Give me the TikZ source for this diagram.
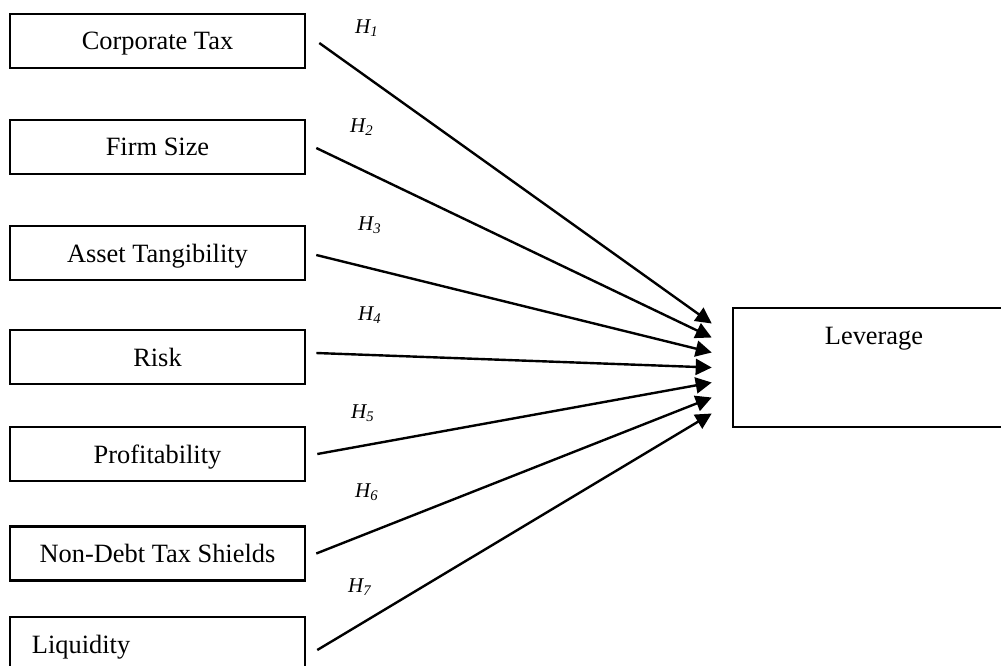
\documentclass[tikz,border=0pt]{standalone}
\usepackage{fontspec}
\setmainfont{Liberation Serif}
\usetikzlibrary{arrows.meta}

\begin{document}
\begin{tikzpicture}[x=0.5pt, y=-0.5pt,
  box/.style = {draw, line width=1.3pt, minimum width=147.5pt, minimum height=27pt, inner sep=0pt, text depth=0pt, font=\fontsize{13.2}{15}\selectfont},
  hyp/.style = {font=\fontsize{10.5}{12}\selectfont\itshape, inner sep=0pt},
  link/.style = {line width=1.2pt, -{Triangle[length=8pt,width=8pt]}}]

% Frame
\clip (0,0) rectangle (1001,665);

% Determinants
\node[box] (tax) at (157.5,41) {Corporate Tax};
\node[box] (size) at (157.5,147) {Firm Size};
\node[box] (tang) at (157.5,253) {Asset Tangibility};
\node[box] (risk) at (157.5,357) {Risk};
\node[box] (prof) at (157.5,454) {Profitability};
\node[box] (ndts) at (157.5,553.5) {Non-Debt Tax Shields};
\node[box, inner xsep=11pt, text width=125.5pt, align=left] (liq) at (157.5,644) {Liquidity};

% Dependent variable
\node[draw, line width=1.3pt, minimum width=138.5pt, minimum height=59.5pt, inner sep=0pt] (lev) at (871.5,367.5) {};
\node[font=\fontsize{13.2}{15}\selectfont, anchor=base] (levtext) at (874,344) {Leverage};

% Hypotheses
\node[hyp] (h1) at (367,28) {H\textsubscript{1}};
\node[hyp] (h2) at (362,127) {H\textsubscript{2}};
\node[hyp] (h3) at (370,225) {H\textsubscript{3}};
\node[hyp] (h4) at (370,315) {H\textsubscript{4}};
\node[hyp] (h5) at (363,413) {H\textsubscript{5}};
\node[hyp] (h6) at (367,492) {H\textsubscript{6}};
\node[hyp] (h7) at (360,587) {H\textsubscript{7}};

% Arrows
\draw[link] ([xshift=6.5pt,yshift=-1pt]tax.east) -- ([xshift=-10pt,yshift=22pt]lev.west);
\draw[link] ([xshift=5pt,yshift=-0.5pt]size.east) -- ([xshift=-10pt,yshift=15pt]lev.west);
\draw[link] ([xshift=5pt,yshift=-1pt]tang.east) -- ([xshift=-10pt,yshift=7.5pt]lev.west);
\draw[link] ([xshift=5pt,yshift=2pt]risk.east) -- ([xshift=-10pt]lev.west);
\draw[link] ([xshift=5.5pt]prof.east) -- ([xshift=-10pt,yshift=-7.5pt]lev.west);
\draw[link] ([xshift=5pt]ndts.east) -- ([xshift=-10pt,yshift=-15pt]lev.west);
\draw[link] ([xshift=5.5pt,yshift=-3pt]liq.east) -- ([xshift=-10pt,yshift=-23pt]lev.west);

\end{tikzpicture}
\end{document}
